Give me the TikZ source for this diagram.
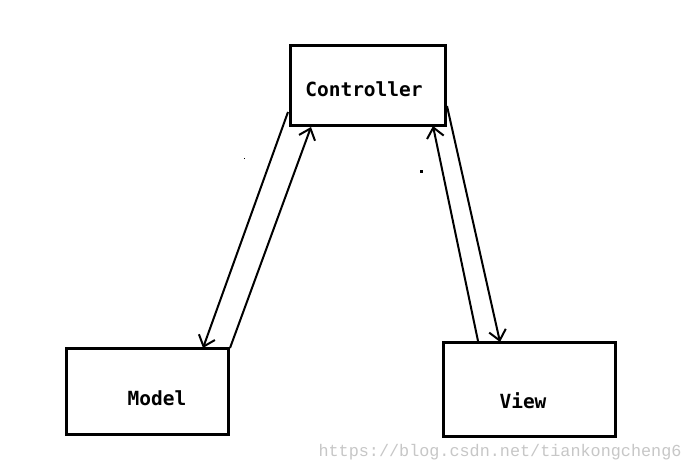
\documentclass[tikz,border=0pt]{standalone}
\usepackage{fontspec}
\newfontfamily\boxfont{DejaVu Sans Mono}
\newfontfamily\wmfont{Liberation Mono}
\usetikzlibrary{arrows.meta}
\begin{document}
\begin{tikzpicture}[x=1pt,y=-1pt,
  box/.style={draw, line width=3pt, inner sep=0pt},
  lbl/.style={inner sep=0pt, font=\boxfont\bfseries\fontsize{19.5}{19.5}\selectfont},
  link/.style={line width=2pt, -{Straight Barb[length=10pt,width=17pt,line width=2pt]}}]
\useasboundingbox[fill=white] (0,0) rectangle (693,471);
\node[box, minimum width=155pt, minimum height=80pt] (ctrl) at (368,85.5) {};
\node[box, minimum width=162pt, minimum height=86pt] (model) at (147.5,391.5) {};
\node[box, minimum width=172pt, minimum height=94pt] (view) at (529.5,389.5) {};
\node[lbl] (ctrlT) at (364,89) {Controller};
\node[lbl] (modelT) at (157,398) {Model};
\node[lbl] (viewT) at (523,401) {View};
% connector end points
\coordinate (c1) at (288,112);
\coordinate (m1) at (203,348);
\coordinate (m2) at (230,348);
\coordinate (c2) at (311,127);
\coordinate (v1) at (478,341);
\coordinate (c3) at (433,126);
\coordinate (c4) at (447,106);
\coordinate (v2) at (500,342);
\draw[link] (c1) -- (m1);
\draw[link] (m2) -- (c2);
\draw[link] (v1) -- (c3);
\draw[link] (c4) -- (v2);
% stray specks
\fill (243.5,157.5) rectangle (245,159);
\fill (420,169.5) rectangle (422.5,173);
\node[inner sep=0pt, text=black!22, font=\wmfont\fontsize{16.8}{16.8}\selectfont] (wm) at (500,452) {https://blog.csdn.net/tiankongcheng6};
\end{tikzpicture}
\end{document}
